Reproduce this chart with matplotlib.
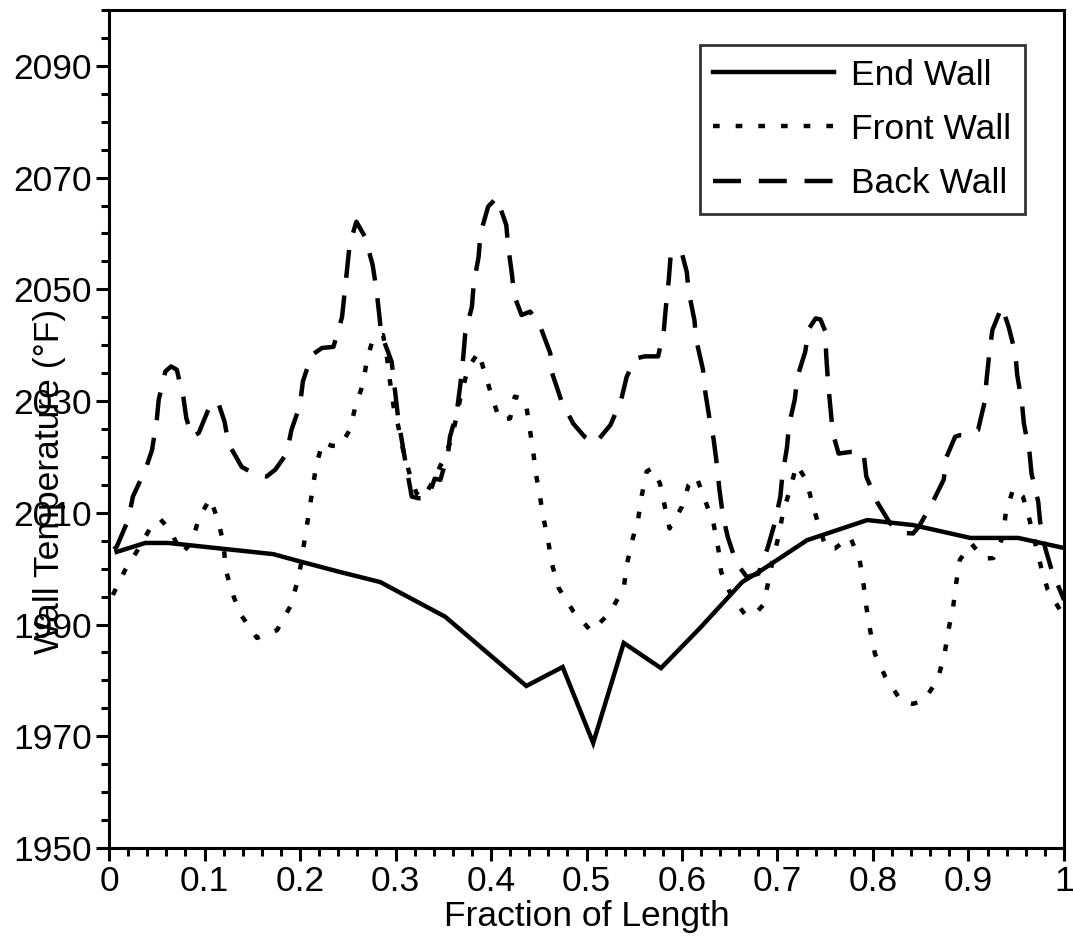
import matplotlib
matplotlib.use("Agg")
import matplotlib.pyplot as plt
from matplotlib.ticker import MultipleLocator

plt.rcParams['font.family'] = ['Liberation Sans', 'DejaVu Sans']

# wall temperature along the furnace length
end_x = [0.008, 0.038, 0.062, 0.172, 0.202, 0.242, 0.284, 0.352, 0.437, 0.475,
         0.507, 0.539, 0.578, 0.619, 0.663, 0.684, 0.731, 0.794, 0.842, 0.902,
         0.952, 1.0]
end_t = [2003.0, 2004.6, 2004.6, 2002.6, 2001.2, 1999.4, 1997.6, 1991.4, 1979.0, 1982.4,
         1968.8, 1986.7, 1982.2, 1989.4, 1997.6, 1999.8, 2005.1, 2008.7, 2007.8, 2005.5,
         2005.5, 2003.7]

front_x = [0.004, 0.017, 0.031, 0.046, 0.054, 0.064, 0.076, 0.087, 0.094, 0.106,
           0.114, 0.120, 0.122, 0.128, 0.137, 0.155, 0.176, 0.190, 0.197, 0.202,
           0.205, 0.209, 0.213, 0.217, 0.224, 0.233, 0.242, 0.252, 0.258, 0.266,
           0.270, 0.277, 0.287, 0.291, 0.294, 0.298, 0.303, 0.308, 0.315, 0.322,
           0.329, 0.340, 0.350, 0.359, 0.369, 0.376, 0.387, 0.394, 0.401, 0.409,
           0.420, 0.425, 0.436, 0.440, 0.444, 0.447, 0.451, 0.455, 0.460, 0.464,
           0.471, 0.486, 0.505, 0.524, 0.539, 0.542, 0.547, 0.554, 0.558, 0.563,
           0.569, 0.577, 0.582, 0.587, 0.600, 0.607, 0.615, 0.624, 0.633, 0.638,
           0.641, 0.652, 0.666, 0.676, 0.685, 0.690, 0.695, 0.701, 0.706, 0.713,
           0.720, 0.730, 0.736, 0.743, 0.751, 0.760, 0.776, 0.786, 0.790, 0.793,
           0.797, 0.802, 0.813, 0.830, 0.842, 0.854, 0.868, 0.875, 0.879, 0.884,
           0.887, 0.891, 0.903, 0.916, 0.926, 0.936, 0.939, 0.947, 0.957, 0.964,
           0.970, 0.976, 0.983, 0.997, 1.0]
front_t = [1995.3, 1999.8, 2003.6, 2008.1, 2008.8, 2006.9, 2002.7, 2004.8, 2009.0, 2012.6,
           2008.7, 2004.5, 2000.0, 1996.2, 1992.0, 1987.6, 1989.0, 1993.3, 1997.5, 2001.6,
           2005.5, 2009.6, 2014.1, 2018.6, 2022.7, 2022.0, 2021.9, 2024.8, 2029.0, 2033.1,
           2037.3, 2041.5, 2041.8, 2037.9, 2033.8, 2029.0, 2025.4, 2021.2, 2016.8, 2013.5,
           2012.6, 2015.9, 2019.5, 2023.3, 2031.4, 2035.9, 2038.8, 2034.7, 2030.8, 2026.6,
           2026.9, 2030.8, 2030.2, 2025.7, 2021.2, 2017.0, 2013.2, 2009.0, 2004.8, 2000.7,
           1996.5, 1992.4, 1988.8, 1992.0, 1996.5, 2000.5, 2004.5, 2008.8, 2013.2, 2017.4,
           2018.0, 2015.2, 2011.1, 2007.2, 2011.1, 2015.0, 2016.5, 2012.3, 2008.1, 2003.6,
           1999.4, 1995.0, 1991.8, 1991.8, 1993.5, 1997.3, 2001.5, 2005.7, 2010.2, 2014.1,
           2018.6, 2015.9, 2012.0, 2007.8, 2003.6, 2003.6, 2005.7, 2001.6, 1997.3, 1993.2,
           1989.0, 1984.8, 1980.6, 1976.2, 1975.8, 1976.5, 1980.3, 1984.8, 1989.0, 1993.2,
           1997.3, 2001.6, 2004.5, 2001.8, 2001.9, 2005.7, 2009.9, 2014.4, 2012.9, 2008.7,
           2004.5, 2000.3, 1996.2, 1992.3, 1992.0]

back_x = [0.005, 0.008, 0.020, 0.025, 0.038, 0.045, 0.050, 0.052, 0.059, 0.065,
          0.071, 0.078, 0.081, 0.087, 0.094, 0.106, 0.114, 0.121, 0.125, 0.139,
          0.152, 0.165, 0.174, 0.186, 0.191, 0.200, 0.203, 0.212, 0.223, 0.235,
          0.244, 0.249, 0.252, 0.259, 0.268, 0.276, 0.280, 0.283, 0.285, 0.296,
          0.303, 0.310, 0.317, 0.324, 0.334, 0.341, 0.347, 0.355, 0.357, 0.364,
          0.368, 0.371, 0.373, 0.380, 0.382, 0.387, 0.389, 0.397, 0.406, 0.416,
          0.418, 0.422, 0.424, 0.432, 0.441, 0.451, 0.462, 0.464, 0.474, 0.486,
          0.498, 0.509, 0.525, 0.536, 0.542, 0.551, 0.561, 0.575, 0.581, 0.583,
          0.586, 0.588, 0.594, 0.600, 0.605, 0.607, 0.613, 0.615, 0.622, 0.624,
          0.629, 0.633, 0.637, 0.639, 0.643, 0.648, 0.657, 0.668, 0.680, 0.690,
          0.697, 0.703, 0.705, 0.710, 0.712, 0.718, 0.721, 0.729, 0.733, 0.740,
          0.745, 0.750, 0.751, 0.753, 0.755, 0.758, 0.764, 0.777, 0.790, 0.793,
          0.804, 0.818, 0.830, 0.842, 0.848, 0.861, 0.874, 0.877, 0.886, 0.891,
          0.898, 0.910, 0.917, 0.919, 0.922, 0.925, 0.935, 0.942, 0.949, 0.951,
          0.956, 0.958, 0.964, 0.966, 0.973, 0.975, 0.980, 0.987, 1.0]
back_t = [2003.5, 2003.9, 2008.7, 2012.9, 2017.7, 2021.2, 2026.6, 2030.2, 2035.3, 2036.2,
          2035.6, 2030.5, 2026.9, 2023.6, 2024.3, 2029.3, 2029.9, 2026.3, 2022.4, 2018.2,
          2017.0, 2016.5, 2017.7, 2020.6, 2024.8, 2029.3, 2033.5, 2038.2, 2039.5, 2039.7,
          2045.0, 2053.1, 2058.0, 2062.1, 2059.4, 2054.4, 2050.0, 2045.4, 2042.1, 2037.0,
          2026.6, 2019.5, 2012.9, 2012.6, 2012.6, 2016.1, 2015.9, 2020.6, 2023.6, 2027.8,
          2033.1, 2038.0, 2042.1, 2046.9, 2051.1, 2055.8, 2060.0, 2064.8, 2066.4, 2061.5,
          2057.6, 2052.6, 2049.0, 2045.4, 2046.0, 2043.6, 2038.6, 2035.0, 2029.9, 2026.0,
          2023.6, 2022.4, 2025.7, 2030.0, 2034.3, 2037.6, 2038.0, 2038.0, 2042.7, 2046.6,
          2051.4, 2055.8, 2057.0, 2056.4, 2053.1, 2049.6, 2044.5, 2040.9, 2035.6, 2032.0,
          2026.6, 2023.3, 2018.0, 2014.4, 2009.3, 2005.6, 2001.0, 1998.5, 1999.1, 2003.9,
          2008.1, 2012.9, 2016.5, 2021.8, 2025.7, 2030.2, 2034.4, 2038.8, 2043.0, 2044.8,
          2044.6, 2042.5, 2038.2, 2033.2, 2029.6, 2024.2, 2020.6, 2020.9, 2020.9, 2016.5,
          2012.0, 2008.1, 2006.4, 2006.3, 2007.5, 2011.4, 2015.9, 2020.0, 2023.6, 2023.9,
          2023.9, 2024.8, 2029.9, 2034.0, 2038.8, 2042.7, 2046.9, 2043.3, 2038.6, 2034.7,
          2029.6, 2026.0, 2020.6, 2017.0, 2012.0, 2008.4, 2003.9, 1999.8, 1994.4]

x_ticks = [0, 0.1, 0.2, 0.3, 0.4, 0.5, 0.6, 0.7, 0.8, 0.9, 1]
x_labels = ['0', '0.1', '0.2', '0.3', '0.4', '0.5', '0.6', '0.7', '0.8', '0.9', '1']
y_ticks = [1950, 1970, 1990, 2010, 2030, 2050, 2070, 2090]

fs = 25.5
lw = 3.2

fig = plt.figure(figsize=(10.73, 9.39), dpi=100)
ax = fig.add_axes([0.1016, 0.0969, 0.89, 0.8925])

ax.plot(end_x, end_t, color='black', lw=lw, solid_joinstyle='miter', label='End Wall')
ax.plot(front_x, front_t, color='black', lw=lw, dashes=(1.5, 3.6), label='Front Wall')
ax.plot(back_x, back_t, color='black', lw=lw, dashes=(6.3, 4), label='Back Wall')

ax.set_xlim(0, 1)
ax.set_ylim(1950, 2100)
ax.set_xticks(x_ticks)
ax.set_xticklabels(x_labels)
ax.set_yticks(y_ticks)
ax.xaxis.set_minor_locator(MultipleLocator(0.02))
ax.yaxis.set_minor_locator(MultipleLocator(5))

ax.tick_params(which='both', direction='out', top=False, right=False,
               labelsize=fs, width=2.2, colors='black')
ax.tick_params(which='major', length=9.5, pad=3)
ax.tick_params(which='minor', length=6)

for sp in ax.spines.values():
    sp.set_linewidth(2.2)

ax.set_xlabel('Fraction of Length', fontsize=fs, labelpad=1)
ax.set_ylabel('Wall Temperature (°F)', fontsize=fs)
# label sits over the tick numbers
ax.yaxis.set_label_coords(-0.045, 0.438)

leg = ax.legend(loc='upper right', bbox_to_anchor=(0.959, 0.958), borderaxespad=0,
                fontsize=fs, frameon=True, fancybox=False, edgecolor='black',
                handlelength=3.4, handletextpad=0.5, labelspacing=0.6,
                borderpad=0.38)
leg.get_frame().set_linewidth(2.0)

fig.savefig('out.png', dpi=100)
